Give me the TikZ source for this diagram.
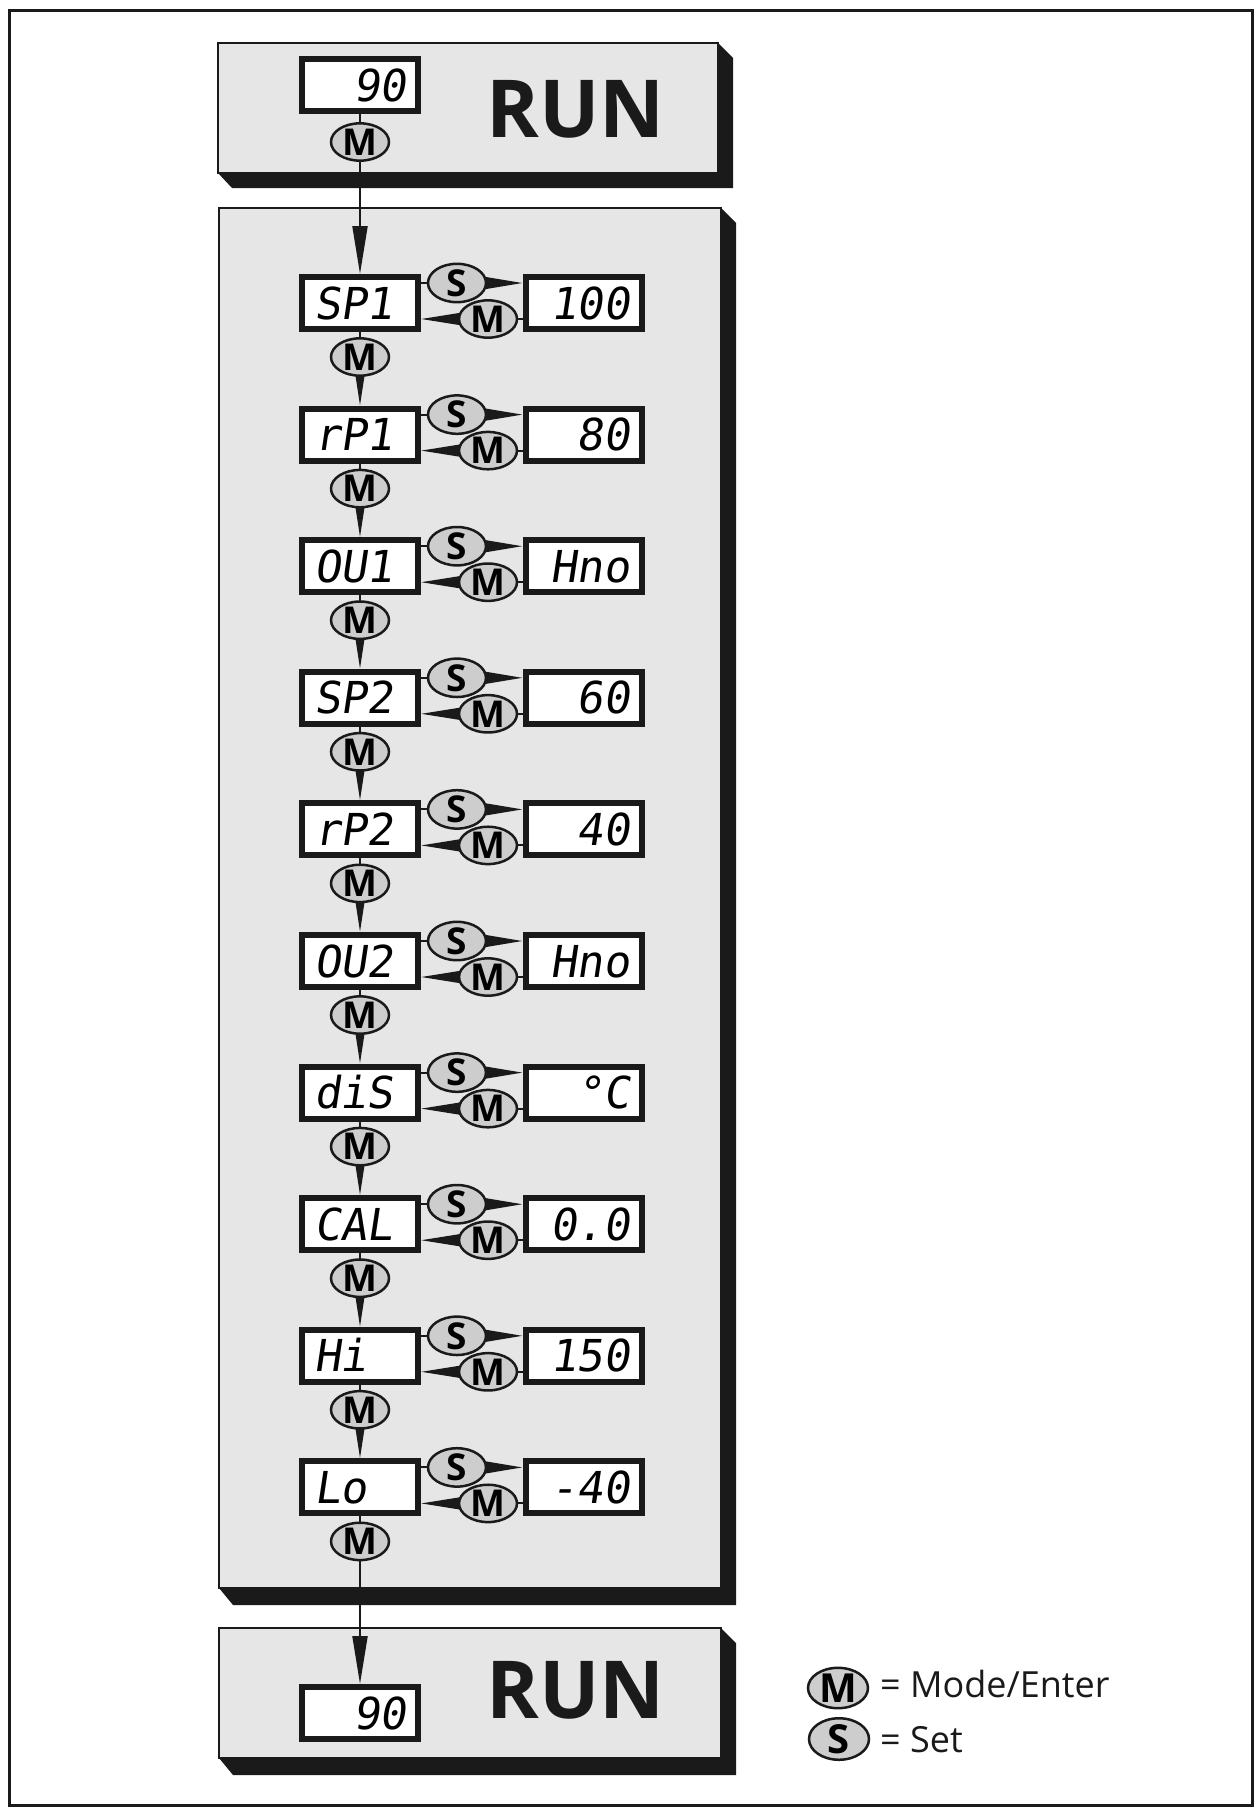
\documentclass[tikz,border=0pt]{standalone}
\usepackage{fontspec}
\setmainfont{Open Sans}
\newfontfamily\segfont[FakeSlant=0.15]{DejaVu Sans Mono}
\usetikzlibrary{arrows.meta,shapes.geometric}
\pgfdeclarelayer{back}
\pgfdeclarelayer{mid}
\pgfsetlayers{back,mid,main}
\definecolor{panelgray}{HTML}{E6E6E6}
\definecolor{btngray}{HTML}{CDCDCD}
\definecolor{ink}{HTML}{1A1A1A}
\tikzset{
  disp/.style={draw=ink, line width=6pt, fill=white, minimum width=116pt, minimum height=52pt,
    inner xsep=12pt, inner ysep=0pt, text width=92pt, text height=32pt, text depth=0pt,
    font=\segfont\fontsize{44}{44}\selectfont},
  lab/.style={disp, align=left},
  val/.style={disp, align=right},
  btn/.style={ellipse, draw=ink, line width=2.5pt, fill=btngray, minimum width=58pt,
    minimum height=34pt, inner sep=0pt, font=\bfseries\fontsize{37}{37}\selectfont},
  conn/.style={draw=ink, line width=2pt},
  runtext/.style={anchor=base west, inner sep=0pt, font=\bfseries\fontsize{80}{80}\selectfont, text=ink},
  legtext/.style={anchor=base west, inner sep=0pt, font=\fontsize{36}{36}\selectfont, text=ink},
}
\begin{document}
\begin{tikzpicture}[x=1pt,y=-1pt]
\useasboundingbox (0,0) rectangle (1259,1807);
% outer frame
\draw[ink, line width=3pt] (9,10) rectangle (1252,1805);
% panels
\begin{pgfonlayer}{back}
  % top RUN panel
  \fill[ink] (718,43) -- (733,58) -- (733,188) -- (232,188) -- (218,173) -- (718,173) -- cycle;
  \draw[ink, line width=2pt, fill=panelgray] (218,43) rectangle (718,173);
  % middle panel
  \fill[ink] (721,208) -- (736,223) -- (736,1605) -- (233,1605) -- (219,1588) -- (721,1588) -- cycle;
  \draw[ink, line width=2pt, fill=panelgray] (219,208) rectangle (721,1588);
  % bottom RUN panel
  \fill[ink] (721,1628) -- (736,1643) -- (736,1775) -- (233,1775) -- (219,1758) -- (721,1758) -- cycle;
  \draw[ink, line width=2pt, fill=panelgray] (219,1628) rectangle (721,1758);
\end{pgfonlayer}

% top RUN
\node[val] (dtop) at (360,85) {90};
\node[btn] (mtop) at (360,142) {M};
\node[runtext] (runtop) at (486,137) {RUN};

% menu rows
\foreach \lab/\val [count=\i] in {SP1/100, rP1/80, OU1/Hno, SP2/60, rP2/40, OU2/Hno, diS/{°C}, CAL/0.0, Hi/150, Lo/-40} {
  \pgfmathsetmacro\T{274+131.6*(\i-1)}
  \node[lab] (l\i) at (360,\T+29) {\lab};
  \node[val] (v\i) at (583.5,\T+29) {\val};
  \node[btn] (s\i) at (457,\T+9) {S};
  \node[btn] (r\i) at (488,\T+45) {M};
  \node[btn] (d\i) at (360,\T+83) {M};
}

% bottom RUN
\node[val] (dbot) at (360,1713) {90};
\node[runtext] (runbot) at (486,1718) {RUN};

% legend
\node[btn, minimum width=60pt, minimum height=38pt, font=\bfseries\fontsize{40}{40}\selectfont] (legm) at (838,1688) {M};
\node[legtext] (legmt) at (880,1697) {= Mode/Enter};
\node[btn, minimum width=60pt, minimum height=38pt, font=\bfseries\fontsize{40}{40}\selectfont] (legs) at (839,1739) {S};
\node[legtext] (legst) at (880,1752) {= Set};

% connectors
\begin{pgfonlayer}{mid}
  \draw[conn] (dtop.south) -- (mtop.center);
  \draw[conn, -{Triangle[length=48pt,width=15pt]}] (mtop.center) -- (l1.north);
  \foreach \i in {1,...,10} {
    \draw[conn] (l\i.east |- s\i) -- (s\i.center);
    \draw[conn, -{Triangle[length=44pt,width=14pt]}] (s\i.center) -- (v\i.west |- s\i);
    \draw[conn] (v\i.west |- r\i) -- (r\i.center);
    \draw[conn, -{Triangle[length=46pt,width=14pt]}] (r\i.center) -- (l\i.east |- r\i);
    \draw[conn] (l\i.south) -- (d\i.center);
  }
  \foreach \i [evaluate=\i as \j using int(\i+1)] in {1,...,9} {
    \draw[conn, -{Triangle[length=38pt,width=11pt]}] (d\i.center) -- (l\j.north);
  }
  \draw[conn, -{Triangle[length=48pt,width=15pt]}] (d10.center) -- (dbot.north);
\end{pgfonlayer}
\end{tikzpicture}
\end{document}
